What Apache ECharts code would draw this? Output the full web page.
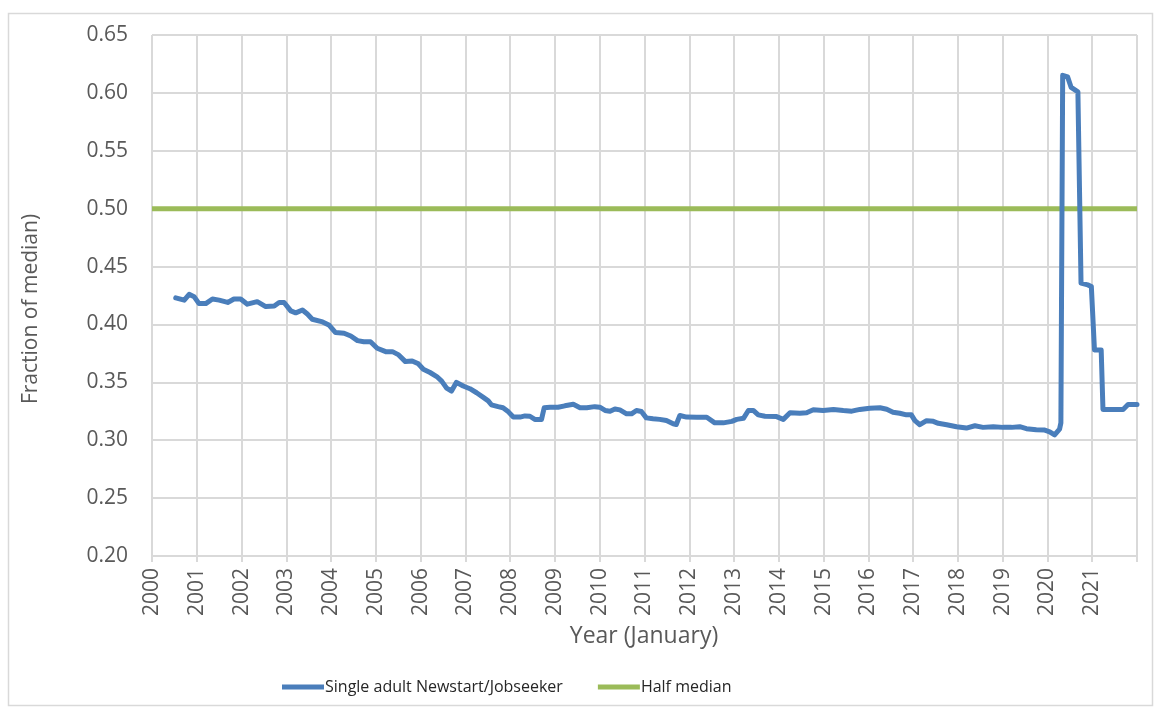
<!DOCTYPE html>
<html><head><meta charset="utf-8">
<script src="https://cdn.jsdelivr.net/npm/echarts@6/dist/echarts.min.js"></script>
<style>html,body{margin:0;padding:0;background:#fff}#c{width:1162px;height:711px}</style>
</head><body><div id="c"></div>
<script>
const obsYears = [2000.53,2000.72,2000.83,2000.94,2001.05,2001.20,2001.35,2001.50,2001.69,2001.83,2001.98,
2002.13,2002.35,2002.54,2002.73,2002.84,2002.95,2003.10,2003.21,2003.36,2003.47,2003.58,2003.81,2003.95,
2004.10,2004.29,2004.44,2004.59,2004.73,2004.88,2005.03,2005.22,2005.37,2005.51,2005.66,2005.81,2005.95,
2006.06,2006.21,2006.36,2006.47,2006.58,2006.69,2006.80,2006.95,2007.10,2007.25,2007.40,2007.51,2007.58,
2007.73,2007.84,2007.96,2008.07,2008.22,2008.33,2008.44,2008.55,2008.70,2008.76,2008.89,2009.07,2009.22,
2009.41,2009.56,2009.71,2009.89,2010.00,2010.12,2010.23,2010.34,2010.45,2010.60,2010.71,2010.82,2010.93,
2011.04,2011.19,2011.34,2011.49,2011.64,2011.71,2011.79,2011.94,2012.17,2012.39,2012.57,2012.76,2012.95,
2013.06,2013.21,2013.32,2013.43,2013.54,2013.69,2013.95,2014.10,2014.25,2014.47,2014.62,2014.77,2014.99,
2015.22,2015.44,2015.63,2015.81,2016.03,2016.26,2016.41,2016.55,2016.70,2016.85,2016.96,2017.04,2017.15,
2017.30,2017.45,2017.56,2017.75,2017.97,2018.19,2018.38,2018.56,2018.79,2019.01,2019.20,2019.38,2019.53,
2019.75,2019.94,2020.05,2020.16,2020.27,2020.30,2020.34,2020.45,2020.53,2020.68,2020.71,2020.75,2020.90,
2020.98,2021.05,2021.20,2021.24,2021.69,2021.80,2022.00];
// Single adult Newstart/Jobseeker, fraction of median
const newstartValues = [0.423,0.421,0.426,0.424,0.418,0.418,0.422,0.421,0.419,0.422,0.422,
0.4175,0.4197,0.4154,0.416,0.419,0.419,0.4117,0.410,0.4125,0.409,0.4045,0.4022,0.3996,
0.393,0.3924,0.390,0.386,0.3851,0.3851,0.3794,0.3765,0.3765,0.3737,0.3679,0.3685,0.366,
0.3613,0.3585,0.355,0.351,0.345,0.3425,0.350,0.3468,0.3445,0.341,0.337,0.334,0.3306,
0.329,0.328,0.3245,0.320,0.320,0.321,0.3207,0.318,0.318,0.328,0.3285,0.3285,0.3297,
0.331,0.328,0.328,0.329,0.3285,0.3257,0.325,0.327,0.3262,0.3228,0.3228,0.3257,0.3248,
0.3193,0.3185,0.3180,0.317,0.3142,0.3136,0.3214,0.320,0.3198,0.3198,0.315,0.315,0.3163,
0.318,0.3189,0.3257,0.3257,0.3219,0.3207,0.3204,0.318,0.3237,0.3233,0.3237,0.3263,0.3257,
0.3266,0.3257,0.3251,0.3266,0.3277,0.3281,0.3268,0.3242,0.3233,0.3219,0.3219,0.3169,0.3134,
0.3169,0.3163,0.3146,0.3134,0.3117,0.3105,0.3125,0.3111,0.3117,0.3111,0.3111,0.3117,0.3100,
0.309,0.3088,0.3073,0.3046,0.3096,0.315,0.6152,0.6138,0.6047,0.6009,0.6005,0.4357,0.4342,
0.4328,0.378,0.378,0.3265,0.3265,0.3308,0.3308];
// Half median reference line
const halfMedianYears = [2000, 2022];
const halfMedianValues = [0.5, 0.5];
// Axis tick labels
const yTickLabels = ['0.20','0.25','0.30','0.35','0.40','0.45','0.50','0.55','0.60','0.65'];
const xTickYears = [2000,2001,2002,2003,2004,2005,2006,2007,2008,2009,2010,2011,2012,2013,2014,2015,2016,2017,2018,2019,2020,2021];
const seriesNames = ['Single adult Newstart/Jobseeker', 'Half median'];

const FONT = 'Open Sans';
const chart = echarts.init(document.getElementById('c'), null, {renderer: 'canvas'});
const option = {
  backgroundColor: '#ffffff',
  animation: false,
  textStyle: {fontFamily: FONT},
  grid: {left: 152, right: 25, top: 35, bottom: 155, containLabel: false},
  xAxis: {
    type: 'value', min: 2000, max: 2022, interval: 1,
    axisLine: {show: true, lineStyle: {color: '#d9d9d9', width: 2}},
    axisTick: {show: true, length: 6, lineStyle: {color: '#d9d9d9', width: 2}},
    splitLine: {show: true, lineStyle: {color: '#d9d9d9', width: 2}},
    axisLabel: {
      rotate: 90, margin: 12, color: '#595959', fontSize: 21, fontFamily: FONT,
      formatter: v => xTickYears.includes(Math.round(v)) ? String(Math.round(v)) : ''
    }
  },
  yAxis: {
    type: 'value', min: 0.2, max: 0.65, interval: 0.05,
    axisLine: {show: false}, axisTick: {show: false},
    splitLine: {show: true, lineStyle: {color: '#d9d9d9', width: 2}},
    axisLabel: {
      margin: 24, color: '#595959', fontSize: 21, fontFamily: FONT,
      formatter: v => yTickLabels[Math.round((v - 0.2) / 0.05)]
    }
  },
  legend: {
    left: 277, top: 674, itemWidth: 42, itemHeight: 5, itemGap: 35, icon: 'rect',
    textStyle: {color: '#262626', fontSize: 16, fontFamily: FONT, padding: [0,0,0,-4]},
    data: seriesNames
  },
  series: [
    {
      name: seriesNames[0], type: 'line', showSymbol: false, symbol: 'none',
      data: obsYears.map((y, i) => [y, newstartValues[i]]),
      lineStyle: {color: '#4a7ebb', width: 5, cap: 'round', join: 'round'},
      itemStyle: {color: '#4a7ebb'}, z: 3
    },
    {
      name: seriesNames[1], type: 'line', showSymbol: false, symbol: 'none',
      data: halfMedianYears.map((y, i) => [y, halfMedianValues[i]]),
      lineStyle: {color: '#9bbb59', width: 5},
      itemStyle: {color: '#9bbb59'}, z: 2
    }
  ],
  graphic: [
    {type: 'rect', shape: {x: 8.5, y: 13.5, width: 1144, height: 692}, style: {fill: 'none', stroke: '#d9d9d9', lineWidth: 1.5}, silent: true},
    {type: 'text', x: 31, y: 309, rotation: Math.PI / 2,
     style: {text: 'Fraction of median)', fill: '#595959', font: '21px "Open Sans"', textAlign: 'center', textVerticalAlign: 'middle'}},
    {type: 'text', x: 644, y: 636,
     style: {text: 'Year (January)', fill: '#595959', font: '23px "Open Sans"', textAlign: 'center', textVerticalAlign: 'middle'}}
  ]
};
chart.setOption(option);
</script>
</body></html>
